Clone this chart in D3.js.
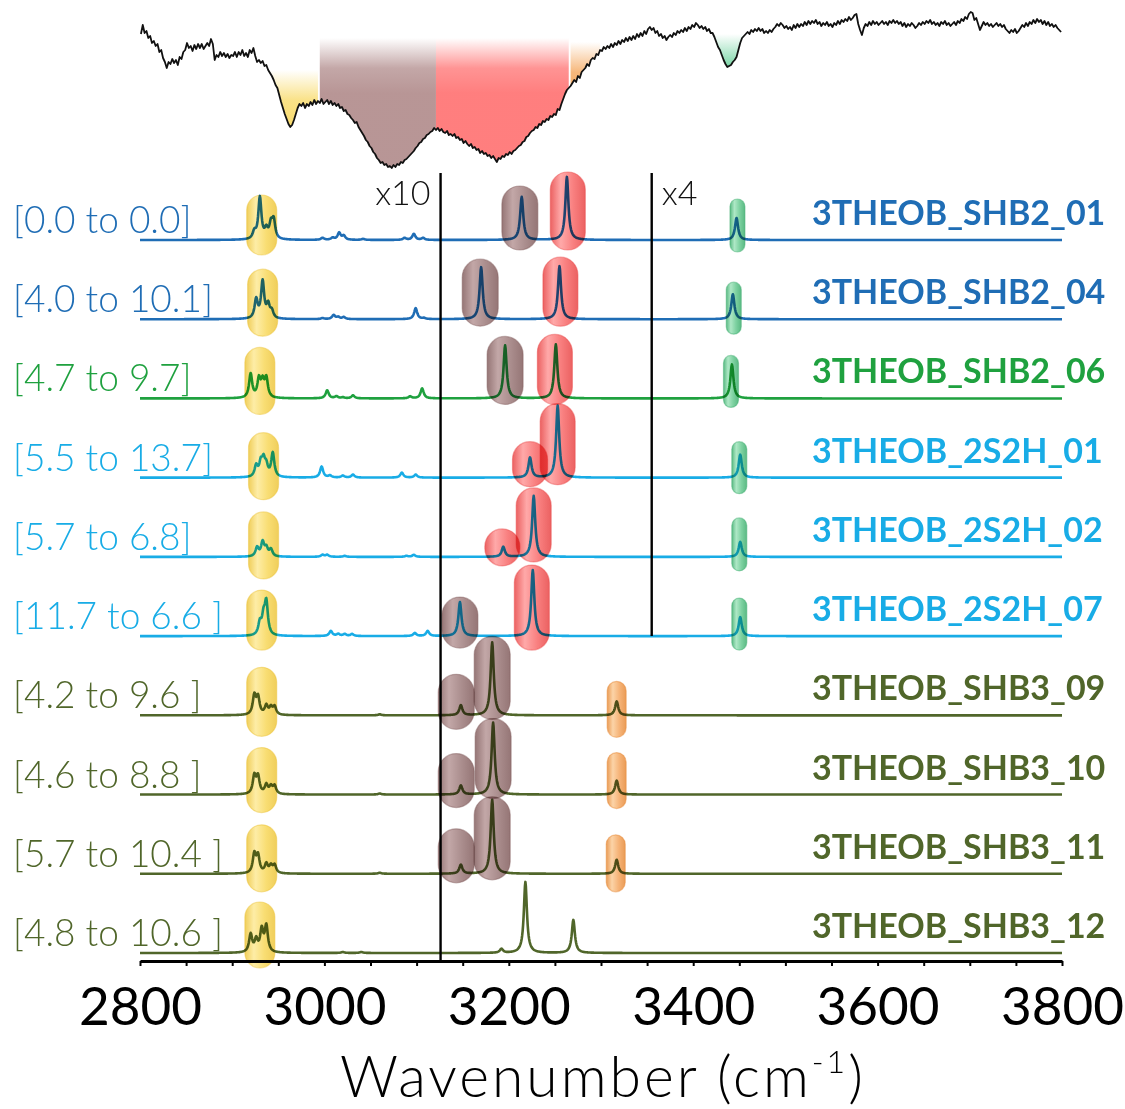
<!DOCTYPE html>
<html>
<head>
<meta charset="utf-8">
<script src="https://cdn.jsdelivr.net/npm/d3@7"></script>
<style>
  body { margin: 0; background: #fff; }
  svg { display: block; }
  text { font-family: Lato, "Open Sans", "DejaVu Sans", sans-serif; }
</style>
</head>
<body>
<svg id="chart" width="1125" height="1109"></svg>
<script>
// ---------- data ----------
const conformers = ["3THEOB_SHB2_01", "3THEOB_SHB2_04", "3THEOB_SHB2_06", "3THEOB_2S2H_01",
  "3THEOB_2S2H_02", "3THEOB_2S2H_07", "3THEOB_SHB3_09", "3THEOB_SHB3_10", "3THEOB_SHB3_11", "3THEOB_SHB3_12"];

const energyRanges = ["[0.0 to 0.0]", "[4.0 to 10.1]", "[4.7 to 9.7]", "[5.5 to 13.7]", "[5.7 to 6.8]",
  "[11.7 to 6.6 ]", "[4.2 to 9.6 ]", "[4.6 to 8.8 ]", "[5.7 to 10.4 ]", "[4.8 to 10.6 ]"];

const familyOf = ["SHB2", "SHB2", "SHB2b", "2S2H", "2S2H", "2S2H", "SHB3", "SHB3", "SHB3", "SHB3"];

// computed stick spectra per conformer: [wavenumber (cm-1), displayed intensity]
const peaks = [
  [[2924, 7], [2930, 42], [2937, 9], [2942, 14], [2945, 18], [2998, 2], [3009, 2], [3016, 7], [3021, 4],
   [3042, 1], [3087, 2], [3097, 6], [3107, 2], [3214, 43], [3263, 63], [3447, 22]],
  [[2926, 19], [2933, 37], [2939, 13], [2943, 7], [2998, 1], [3010, 4], [3015, 2], [3021, 2], [3099, 11],
   [3108, 1], [3170, 52], [3255, 53], [3443, 25]],
  [[2920, 24], [2929, 18], [2933, 15], [2937, 19], [3003, 8], [3013, 2], [3020, 1], [3031, 3], [3093, 2],
   [3106, 10], [3196, 53], [3251, 54], [3442, 34]],
  [[2926, 11], [2931, 13], [2934, 15], [2937, 10], [2944, 24], [2997, 11], [3006, 2], [3020, 2], [3031, 3],
   [3084, 5], [3099, 3], [3223, 20], [3253, 72], [3451, 23]],
  [[2927, 9], [2933, 14], [2937, 8], [2942, 7], [2998, 2], [3003, 2], [3022, 1], [3089, 1], [3097, 2],
   [3194, 10], [3227, 61], [3451, 15]],
  [[2930, 12], [2934, 17], [2937, 32], [3007, 5], [3015, 2], [3022, 2], [3030, 2], [3098, 3], [3112, 5],
   [3147, 34], [3226, 66], [3451, 19]],
  [[2924, 19], [2928, 17], [2937, 9], [2942, 7], [2946, 8], [3060, 1], [3148, 10], [3182, 73], [3317, 14]],
  [[2924, 18], [2928, 17], [2937, 9], [2942, 7], [2946, 8], [3060, 1], [3148, 9], [3183, 72], [3317, 14]],
  [[2924, 19], [2928, 17], [2937, 9], [2942, 7], [2946, 8], [3060, 1], [3148, 9], [3182, 74], [3317, 14]],
  [[2920, 18], [2926, 12], [2932, 22], [2937, 26], [3020, 1], [3040, 1], [3192, 4], [3218, 71], [3270, 33]]
];

// band assignments: [conformer index, band, centre (cm-1), extent above / below baseline]
const assignments = [
  [0, "yellow", 2932, 45, 15], [0, "brown", 3212, 54, 10], [0, "red", 3264, 68, 10], [0, "green", 3448, 41, 12],
  [1, "yellow", 2933, 50, 17], [1, "brown", 3169, 60, 7], [1, "red", 3256, 62, 7], [1, "green", 3444, 37, 15],
  [2, "yellow", 2930, 51, 16], [2, "brown", 3196, 62, 6], [2, "red", 3250, 64, 6], [2, "green", 3441, 43, 9],
  [3, "yellow", 2934, 45, 22], [3, "red", 3223, 36, 9], [3, "red", 3253, 74, 7], [3, "green", 3450, 36, 16],
  [4, "yellow", 2934, 45, 22], [4, "red", 3193, 28, 9], [4, "red", 3227, 69, 5], [4, "green", 3450, 39, 14],
  [5, "yellow", 2932, 46, 14], [5, "brown", 3147, 39, 12], [5, "red", 3225, 71, 14], [5, "green", 3450, 38, 14],
  [6, "yellow", 2932, 48, 21], [6, "brown", 3143, 41, 14], [6, "brown", 3182, 79, 4], [6, "orange", 3317, 34, 22],
  [7, "yellow", 2932, 47, 18], [7, "brown", 3143, 41, 13], [7, "brown", 3183, 76, 4], [7, "orange", 3317, 42, 14],
  [8, "yellow", 2932, 49, 18], [8, "brown", 3143, 45, 9], [8, "brown", 3182, 77, 6], [8, "orange", 3316, 39, 18],
  [9, "yellow", 2930, 51, 15]
];

// experimental IR trace, sampled every 2 cm-1 from 2801 cm-1 (absorption grows downward)
const irStart = 2801, irStep = 2;
const irSignal = [
  34, 25, 33, 31, 38, 36, 43, 41, 46, 44,   52, 50, 58, 62, 68, 62, 64, 59, 63, 60,
  65, 57, 59, 52, 50, 43, 48, 46, 51, 45,   49, 44, 48, 44, 49, 46, 43, 46, 39, 44,
  60, 55, 57, 52, 56, 53, 57, 54, 58, 55,   56, 52, 57, 52, 55, 50, 56, 53, 57, 50,
  53, 48, 56, 62, 60, 63, 61, 66, 65, 70,   73, 76, 80, 85, 88, 95, 102, 108, 114, 119,
  124, 127, 125, 120, 114, 108, 104, 106, 103, 108,   104, 106, 102, 105, 100, 104, 101, 103, 99, 104,
  102, 100, 104, 101, 105, 103, 106, 104, 108, 107,   111, 110, 114, 115, 118, 120, 123, 122, 127, 130,
  133, 136, 140, 142, 146, 148, 152, 154, 158, 160,   163, 162, 165, 164, 167, 166, 168, 165, 167, 164,
  165, 162, 163, 160, 159, 157, 155, 153, 151, 148,   146, 143, 142, 139, 138, 135, 134, 132, 131, 128,
  130, 128, 131, 129, 132, 133, 131, 135, 134, 136,   134, 138, 137, 140, 139, 143, 141, 144, 146, 144,
  148, 147, 150, 149, 153, 151, 154, 153, 156, 155,   158, 156, 159, 162, 158, 159, 156, 157, 154, 155,
  152, 154, 151, 150, 148, 146, 145, 142, 141, 137,   136, 133, 131, 130, 127, 128, 124, 125, 121, 122,
  119, 120, 116, 117, 114, 115, 109, 110, 104, 99,    94, 90, 88, 86, 83, 80, 82, 76, 78, 72,
  70, 68, 64, 66, 60, 58, 59, 54, 55, 50,   51, 47, 49, 46, 48, 44, 47, 43, 45, 41,
  44, 40, 42, 38, 41, 37, 40, 36, 39, 34,   37, 33, 36, 31, 34, 29, 27, 30, 28, 33,
  31, 36, 34, 38, 36, 40, 37, 35, 37, 33,   35, 31, 33, 30, 32, 28, 31, 27, 29, 25,
  27, 23, 25, 28, 26, 29, 27, 31, 29, 33,   33, 37, 42, 47, 50, 55, 60, 64, 67, 66,
  65, 62, 60, 57, 50, 43, 38, 36, 34, 32,   34, 30, 32, 29, 31, 28, 31, 29, 33, 31,
  33, 30, 32, 29, 27, 24, 26, 23, 25, 28,   26, 29, 27, 30, 25, 28, 24, 27, 24, 26,
  22, 25, 21, 24, 21, 23, 20, 24, 22, 26,   23, 25, 22, 26, 24, 27, 23, 25, 21, 24,
  20, 22, 19, 21, 17, 20, 18, 15, 14, 24,   30, 35, 28, 24, 26, 22, 25, 21, 24, 22,
  25, 23, 21, 24, 22, 25, 21, 23, 20, 23,   21, 24, 22, 26, 23, 27, 24, 26, 23, 25,
  28, 26, 23, 25, 22, 24, 21, 23, 20, 24,   22, 25, 23, 26, 22, 24, 21, 25, 23, 26,
  24, 22, 25, 21, 23, 19, 21, 17, 19, 14,   12, 13, 20, 18, 24, 30, 26, 22, 25, 23,
  26, 24, 27, 25, 23, 26, 24, 27, 25, 29,   31, 33, 30, 32, 29, 33, 31, 28, 25, 27,
  23, 26, 22, 24, 20, 23, 19, 22, 20, 24,   21, 25, 22, 26, 24, 27, 25, 28, 30, 32
];

// shaded absorption bands on the IR trace: [band, from, to, shading starts at]
const irBands = [
  ["yellow", 2938, 2994, 70], ["brown", 2994, 3121, 38], ["red", 3121, 3266, 38],
  ["orange", 3266, 3300, 42], ["green", 3419, 3457, 34]
];

// intensity magnification markers: [label, position (cm-1), last conformer covered]
const magnifiers = [["x10", 3126, 9], ["x4", 3355, 5]];

const majorTicks = [2800, 3000, 3200, 3400, 3600, 3800];
const minorTicks = d3.range(2800, 3801, 50);

// ---------- styles ----------
const familyColor = { SHB2: "#1f6db5", SHB2b: "#1fa13f", "2S2H": "#18ace6", SHB3: "#50662a" };
const bandStyle = {
  yellow: { edge: "#ecc232", light: "#fde890", base: "#f7d550", width: 30, alpha: 0.8 },
  brown:  { edge: "#835e5e", light: "#b89898", base: "#9c7a7a", width: 36, alpha: 0.85 },
  red:    { edge: "#e84646", light: "#ff9a9a", base: "#f86a6a", width: 35, alpha: 0.85 },
  green:  { edge: "#3eae6e", light: "#a0e4bc", base: "#66c990", width: 15, alpha: 0.85 },
  orange: { edge: "#e68a38", light: "#fbcc98", base: "#f4a660", width: 19, alpha: 0.85 }
};
const irFill = { yellow: "#f8d860", brown: "#b08a8a", red: "#ff7070", orange: "#f4a050", green: "#5ccc92" };

// ---------- scales ----------
const svg = d3.select("#chart");
const defs = svg.append("defs");
const x = d3.scaleLinear().domain([2800, 3800]).range([140, 1062]);
const rowY = d3.scaleLinear().domain([0, 9]).range([240, 953]);
const inten = d3.scaleLinear().domain([0, 80]).range([0, 80]);
const irY = d3.scaleLinear().domain([0, 170]).range([0, 170]);
const axisY = 961;

// ---------- experimental trace ----------
const irData = irSignal.map((v, i) => [irStart + i * irStep, v]);

irBands.forEach(([band, w0, w1, top], k) => {
  const gid = "irband" + k;
  const g = defs.append("linearGradient").attr("id", gid)
    .attr("gradientUnits", "userSpaceOnUse")
    .attr("x1", 0).attr("x2", 0).attr("y1", irY(top)).attr("y2", irY(top) + 55);
  g.append("stop").attr("offset", 0).attr("stop-color", irFill[band]).attr("stop-opacity", 0);
  g.append("stop").attr("offset", 0.55).attr("stop-color", irFill[band]).attr("stop-opacity", 0.75);
  g.append("stop").attr("offset", 1).attr("stop-color", irFill[band]).attr("stop-opacity", 0.9);
  const pts = irData.filter(d => d[0] >= w0 && d[0] <= w1);
  svg.append("path").datum(pts)
    .attr("d", d3.area().x(d => x(d[0])).y0(irY(top)).y1(d => irY(Math.max(d[1], top))))
    .attr("fill", `url(#${gid})`);
});

svg.append("path").datum(irData)
  .attr("d", d3.line().x(d => x(d[0])).y(d => irY(d[1])))
  .attr("fill", "none").attr("stroke", "#111").attr("stroke-width", 1.8)
  .attr("stroke-linejoin", "round");

// ---------- computed spectra (Lorentzian broadening, HWHM 2 cm-1) ----------
const grid = d3.range(2800, 3800.01, 0.5);
const hwhm = 2;
peaks.forEach((list, r) => {
  const curve = grid.map(w => [w, d3.sum(list, ([c, h]) => h / (1 + ((w - c) / hwhm) ** 2))]);
  svg.append("path").datum(curve)
    .attr("d", d3.line().x(d => x(d[0])).y(d => rowY(r) - inten(d[1])))
    .attr("fill", "none").attr("stroke", familyColor[familyOf[r]])
    .attr("stroke-width", 2.6).attr("stroke-linejoin", "round");
});

// ---------- magnification markers ----------
magnifiers.forEach(([label, w, last]) => {
  const yBottom = last === conformers.length - 1 ? axisY : rowY(last);
  svg.append("line").attr("x1", x(w)).attr("x2", x(w))
    .attr("y1", 173).attr("y2", yBottom)
    .attr("stroke", "#000").attr("stroke-width", 2.4);
  const right = label === "x10";
  svg.append("text")
    .attr("x", right ? x(w) - 10 : x(w) + 10).attr("y", 205)
    .attr("text-anchor", right ? "end" : "start")
    .attr("font-size", 34).attr("font-weight", 300).attr("fill", "#111").text(label);
});

// ---------- band assignment highlights ----------
Object.entries(bandStyle).forEach(([band, s]) => {
  const g = defs.append("linearGradient").attr("id", "pill-" + band)
    .attr("x1", 0).attr("x2", 1).attr("y1", 0).attr("y2", 0);
  [[0, s.edge], [0.3, s.light], [0.65, s.base], [1, s.edge]].forEach(([o, c]) =>
    g.append("stop").attr("offset", o).attr("stop-color", c).attr("stop-opacity", s.alpha));
});

svg.append("g").style("mix-blend-mode", "multiply")
  .selectAll("rect").data(assignments).join("rect")
  .style("mix-blend-mode", "multiply")
  .attr("x", d => x(d[2]) - bandStyle[d[1]].width / 2)
  .attr("width", d => bandStyle[d[1]].width)
  .attr("y", d => rowY(d[0]) - inten(d[3]))
  .attr("height", d => inten(d[3]) + inten(d[4]))
  .attr("rx", d => bandStyle[d[1]].width / 2)
  .attr("ry", d => bandStyle[d[1]].width / 2)
  .attr("fill", d => `url(#pill-${d[1]})`)
  .attr("stroke", d => bandStyle[d[1]].edge)
  .attr("stroke-opacity", 0.45).attr("stroke-width", 1.2);

// ---------- labels ----------
svg.append("g").selectAll("text").data(energyRanges).join("text")
  .attr("x", 13).attr("y", (d, i) => rowY(i) - 7)
  .attr("font-size", 37).attr("font-weight", 300)
  .attr("fill", (d, i) => familyColor[familyOf[i]])
  .text(d => d);

svg.append("g").selectAll("text").data(conformers).join("text")
  .attr("x", 812).attr("y", (d, i) => rowY(i) - 15)
  .attr("font-size", 34).attr("font-weight", 700)
  .attr("fill", (d, i) => familyColor[familyOf[i]])
  .text(d => d);

// ---------- axis ----------
const minorAxis = svg.append("g").attr("transform", `translate(0,${axisY})`)
  .call(d3.axisBottom(x).tickValues(minorTicks).tickSize(5).tickSizeOuter(0).tickFormat(""));
minorAxis.select(".domain").attr("stroke-width", 3);
minorAxis.selectAll(".tick line").attr("stroke-width", 2);

const labelAxis = svg.append("g").attr("transform", `translate(0,${axisY})`)
  .call(d3.axisBottom(x).tickValues(majorTicks).tickSize(0).tickPadding(26).tickFormat(d3.format("d")));
labelAxis.select(".domain").remove();
labelAxis.selectAll("text").attr("font-size", 53).attr("font-weight", 400).attr("fill", "#000")
  .attr("font-family", 'Lato, "Open Sans", sans-serif');

const title = svg.append("text").attr("x", 603).attr("y", 1097)
  .attr("text-anchor", "middle").attr("font-size", 57).attr("font-weight", 300)
  .attr("letter-spacing", 3).attr("fill", "#000");
title.append("tspan").text("Wavenumber (cm");
title.append("tspan").attr("font-size", 32).attr("dy", -24).text("-1");
title.append("tspan").attr("dy", 24).text(")");
</script>
</body>
</html>
